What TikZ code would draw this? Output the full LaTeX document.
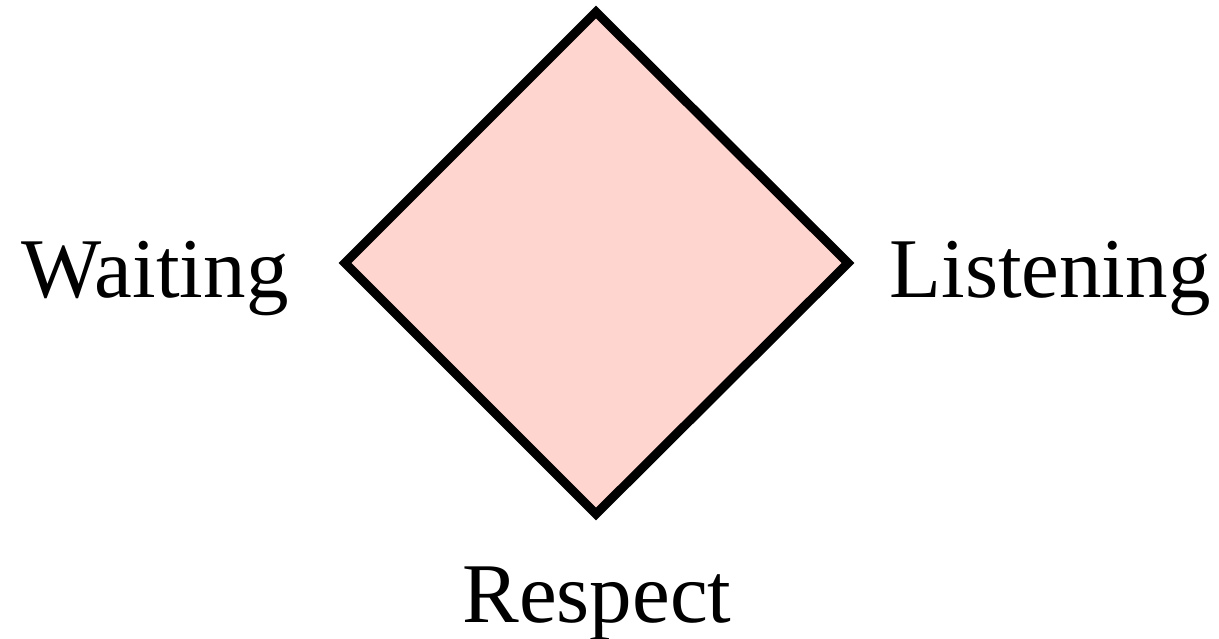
\documentclass[tikz,border=0pt]{standalone}
\usepackage{fontspec}
\setmainfont{Liberation Serif}
\definecolor{diafill}{RGB}{255,213,208}
\begin{document}
\begin{tikzpicture}[x=1pt,y=-1pt,
  lbl/.style={font=\fontsize{85}{92}\selectfont, anchor=base, inner sep=0pt}]
\useasboundingbox (0,0) rectangle (1219,638);
\coordinate (t) at (596,12);
\coordinate (l) at (345,263);
\coordinate (r) at (848,263);
\coordinate (b) at (596,514);
\draw[line width=9pt, fill=diafill, line join=miter] (t) -- (r) -- (b) -- (l) -- cycle;
\node[lbl] (waiting) at (155,297) {Waiting};
\node[lbl] (listening) at (1050,297) {Listening};
\node[lbl] (respect) at (597,622) {Respect};
\end{tikzpicture}
\end{document}
